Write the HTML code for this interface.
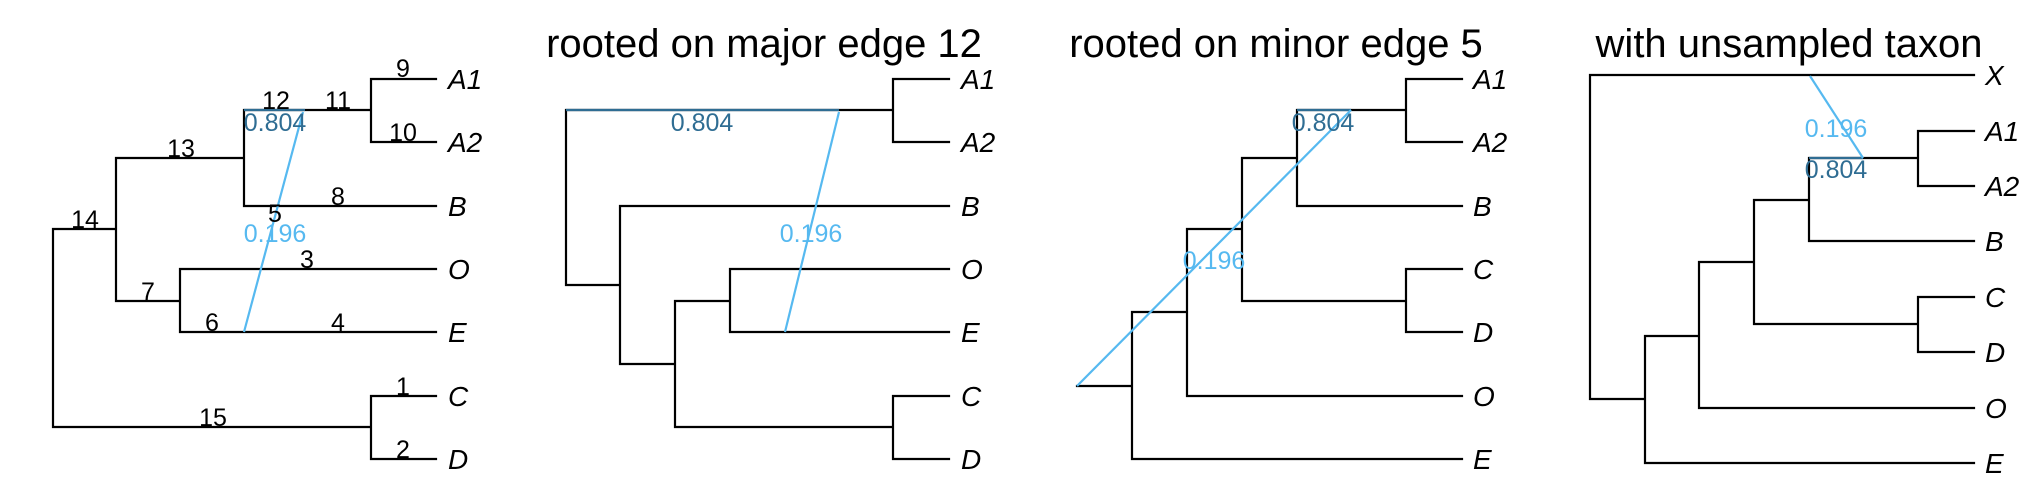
<!DOCTYPE html>
<html><head><meta charset="utf-8"><style>
html,body{margin:0;padding:0;background:#fff;}
svg{display:block;font-family:"Liberation Sans",Arial,sans-serif;}
.e{stroke:#000;stroke-width:2.2;fill:none;stroke-linecap:square}
.mj{stroke:#2f6d93;stroke-width:2.2;fill:none}
.mn{stroke:#56b9f0;stroke-width:2.2;fill:none}
.lf{font-size:28px;font-style:italic;fill:#000}
.n{font-size:25px;fill:#000;text-anchor:middle}
.tmj{font-size:25px;fill:#2f6d93;text-anchor:middle}
.tmn{font-size:25px;fill:#56b9f0;text-anchor:middle}
.ti{font-size:40px;fill:#000;text-anchor:middle}
</style></head><body>
<svg width="2042" height="504" viewBox="0 0 2042 504">
<rect width="2042" height="504" fill="#fff"/>
<!-- Panel 1 -->
<g>
<path class="e" d="M53 229V427M53 229H116M116 158V301M116 158H244M244 110V206M244 110H371M371 79V142M371 79H436M371 142H436M244 206H436M116 301H180M180 269V332M180 269H436M180 332H436M53 427H371M371 396V459M371 396H436M371 459H436"/>
<path class="mj" d="M244 110H305"/>
<path class="mn" d="M303 112L244 332"/>
<text class="lf" x="448" y="89">A1</text><text class="lf" x="448" y="152">A2</text><text class="lf" x="448" y="216">B</text><text class="lf" x="448" y="279">O</text><text class="lf" x="448" y="342">E</text><text class="lf" x="448" y="406">C</text><text class="lf" x="448" y="469">D</text>
<text class="n" x="403" y="77">9</text><text class="n" x="276" y="109">12</text><text class="n" x="338" y="109">11</text><text class="n" x="403" y="141">10</text><text class="n" x="181" y="157">13</text><text class="n" x="85" y="228">14</text><text class="n" x="338" y="205">8</text><text class="n" x="275" y="222">5</text><text class="n" x="307" y="268">3</text><text class="n" x="148" y="300">7</text><text class="n" x="212" y="331">6</text><text class="n" x="338" y="331">4</text><text class="n" x="403" y="395">1</text><text class="n" x="213" y="426">15</text><text class="n" x="403" y="458">2</text>
<text class="tmj" x="275" y="131">0.804</text><text class="tmn" x="275" y="242">0.196</text>
</g>
<!-- Panel 2 -->
<g>
<text class="ti" x="764" y="57">rooted on major edge 12</text>
<path class="e" d="M566 110V285M566 110H893M893 79V142M893 79H949M893 142H949M566 285H620M620 206V364M620 206H949M620 364H675M675 301V427M675 301H730M730 269V332M730 269H949M730 332H949M675 427H893M893 396V459M893 396H949M893 459H949"/>
<path class="mj" d="M566 110H839"/>
<path class="mn" d="M839 112L785 332"/>
<text class="lf" x="961" y="89">A1</text><text class="lf" x="961" y="152">A2</text><text class="lf" x="961" y="216">B</text><text class="lf" x="961" y="279">O</text><text class="lf" x="961" y="342">E</text><text class="lf" x="961" y="406">C</text><text class="lf" x="961" y="469">D</text>
<text class="tmj" x="702" y="131">0.804</text><text class="tmn" x="811" y="242">0.196</text>
</g>
<!-- Panel 3 -->
<g>
<text class="ti" x="1276" y="57">rooted on minor edge 5</text>
<path class="e" d="M1077 386H1132M1132 312V459M1132 459H1462M1132 312H1187M1187 229V396M1187 396H1462M1187 229H1242M1242 158V301M1242 301H1406M1406 269V332M1406 269H1462M1406 332H1462M1242 158H1297M1297 110V206M1297 206H1462M1297 110H1406M1406 79V142M1406 79H1462M1406 142H1462"/>
<path class="mj" d="M1297 110H1351"/>
<path class="mn" d="M1077 386L1351 110"/>
<text class="lf" x="1473" y="89">A1</text><text class="lf" x="1473" y="152">A2</text><text class="lf" x="1473" y="216">B</text><text class="lf" x="1473" y="279">C</text><text class="lf" x="1473" y="342">D</text><text class="lf" x="1473" y="406">O</text><text class="lf" x="1473" y="469">E</text>
<text class="tmj" x="1323" y="131">0.804</text><text class="tmn" x="1214" y="269">0.196</text>
</g>
<!-- Panel 4 -->
<g>
<text class="ti" x="1789" y="57">with unsampled taxon</text>
<path class="e" d="M1590 75V399M1590 75H1974M1590 399H1645M1645 336V463M1645 463H1974M1645 336H1699M1699 262V408M1699 408H1974M1699 262H1754M1754 200V324M1754 324H1918M1918 297V352M1918 297H1974M1918 352H1974M1754 200H1809M1809 158V241M1809 241H1974M1809 158H1918M1918 131V186M1918 131H1974M1918 186H1974"/>
<path class="mj" d="M1809 158H1863"/>
<path class="mn" d="M1810 76L1863 158"/>
<text class="lf" x="1985" y="85">X</text><text class="lf" x="1985" y="141">A1</text><text class="lf" x="1985" y="196">A2</text><text class="lf" x="1985" y="251">B</text><text class="lf" x="1985" y="307">C</text><text class="lf" x="1985" y="362">D</text><text class="lf" x="1985" y="418">O</text><text class="lf" x="1985" y="473">E</text>
<text class="tmn" x="1836" y="137">0.196</text><text class="tmj" x="1836" y="178">0.804</text>
</g>
</svg>
</body></html>
